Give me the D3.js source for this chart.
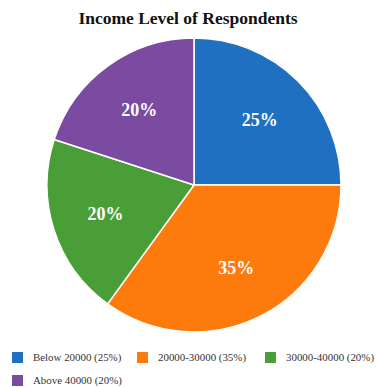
<!DOCTYPE html>
<meta charset="utf-8">
<style>
body { margin: 0; background: #fff; }
svg { display: block; font-family: "Liberation Serif", "Times New Roman", serif; }
.title { font-size: 17.5px; font-weight: bold; fill: #111; }
.slice-label { font-size: 18px; font-weight: bold; fill: #fff; }
.legend text { font-size: 10.9px; fill: #333; }
</style>
<svg width="376" height="387" id="chart"></svg>
<script src="https://d3js.org/d3.v7.min.js"></script>
<script>
// data
var categories = ["Below 20000", "20000-30000", "30000-40000", "Above 40000"];
var shares = [25, 35, 20, 20];
var colors = ["#1f70c1", "#fd7b0c", "#4a9e37", "#7a4ba0"];

var svg = d3.select("svg#chart"),
    width = +svg.attr("width"),
    height = +svg.attr("height");

var cx = 194, cy = 185, radius = 147;

svg.append("text")
    .attr("class", "title")
    .attr("x", width / 2)
    .attr("y", 24)
    .attr("text-anchor", "middle")
    .text("Income Level of Respondents");

var data = categories.map(function(c, i) { return { name: c, value: shares[i], color: colors[i] }; });

var pie = d3.pie().sort(null).value(function(d) { return d.value; });
var arc = d3.arc().innerRadius(0).outerRadius(radius);
var labelArc = d3.arc().innerRadius(93).outerRadius(93);

var g = svg.append("g").attr("transform", "translate(" + cx + "," + cy + ")");

g.selectAll("path")
    .data(pie(data))
    .enter().append("path")
      .attr("d", arc)
      .attr("fill", function(d) { return d.data.color; })
      .attr("stroke", "#fff")
      .attr("stroke-width", 1.5);

g.selectAll("text")
    .data(pie(data))
    .enter().append("text")
      .attr("class", "slice-label")
      .attr("transform", function(d) { return "translate(" + labelArc.centroid(d) + ")"; })
      .attr("text-anchor", "middle")
      .attr("dy", "0.35em")
      .text(function(d) { return d.data.value + "%"; });

// legend, 3 per row
var legendX = [12, 137, 265];
var legend = svg.append("g").attr("class", "legend")
    .selectAll("g")
    .data(data)
    .enter().append("g")
      .attr("transform", function(d, i) {
        return "translate(" + legendX[i % 3] + "," + (352 + Math.floor(i / 3) * 23) + ")";
      });

legend.append("rect")
    .attr("width", 11)
    .attr("height", 11)
    .attr("fill", function(d) { return d.color; });

legend.append("text")
    .attr("x", 21)
    .attr("y", 5.5)
    .attr("dy", "0.35em")
    .text(function(d) { return d.name + " (" + d.value + "%)"; });
</script>
